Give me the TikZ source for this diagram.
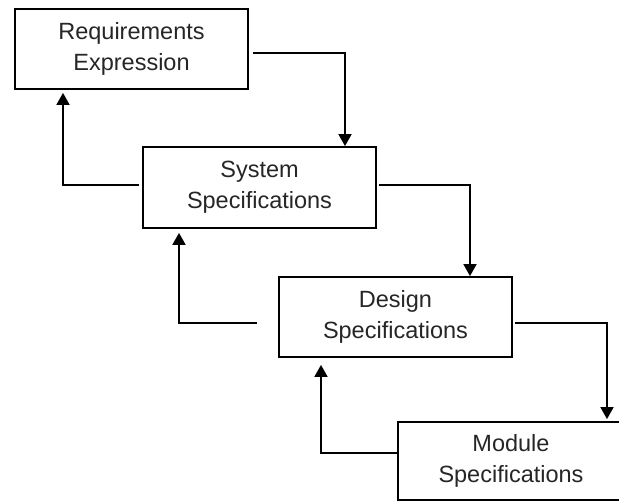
\documentclass[tikz,border=0pt]{standalone}
\usepackage{fontspec}
\setmainfont{Liberation Sans}
\usetikzlibrary{arrows.meta}
\begin{document}
\begin{tikzpicture}[x=1pt,y=-1pt,
  stagebox/.style={draw=black,line width=1.8pt,inner sep=0pt,align=center,
    font=\fontsize{23.5}{31}\selectfont,text=black!85},
  arr/.style={line width=1.8pt,-{Triangle[width=13pt,length=12pt]}}]
\useasboundingbox (0,0) rectangle (619,503);
\clip (0,0) rectangle (619,503);
\fill[white] (0,0) rectangle (619,503);
\node[stagebox,minimum width=233pt,minimum height=80pt] (req) at (131.5,49) {Requirements\\Expression};
\node[stagebox,minimum width=233pt,minimum height=81pt] (sys) at (259.5,187.5) {System\\Specifications};
\node[stagebox,minimum width=233pt,minimum height=80pt] (des) at (395.5,317) {Design\\Specifications};
\node[stagebox,minimum width=226pt,minimum height=78pt] (mod) at (511,461) {Module\\Specifications};
\coordinate (c1) at (253,53);
\coordinate (c2) at (139,185);
\coordinate (c3) at (379,185);
\coordinate (c4) at (257,323);
\coordinate (c5) at (515,323);
\coordinate (c6) at (397,453);
\draw[arr] (c1) -| ([xshift=85.5pt]sys.north);
\draw[arr,shorten >=3pt] (c2) -| ([xshift=-68.5pt]req.south);
\draw[arr] (c3) -| ([xshift=74.5pt]des.north);
\draw[arr,shorten >=4pt] (c4) -| ([xshift=-80.5pt]sys.south);
\draw[arr,shorten >=2pt] (c5) -| ([xshift=96pt]mod.north);
\draw[arr,shorten >=7pt] (c6) -| ([xshift=-74.5pt]des.south);
\end{tikzpicture}
\end{document}
